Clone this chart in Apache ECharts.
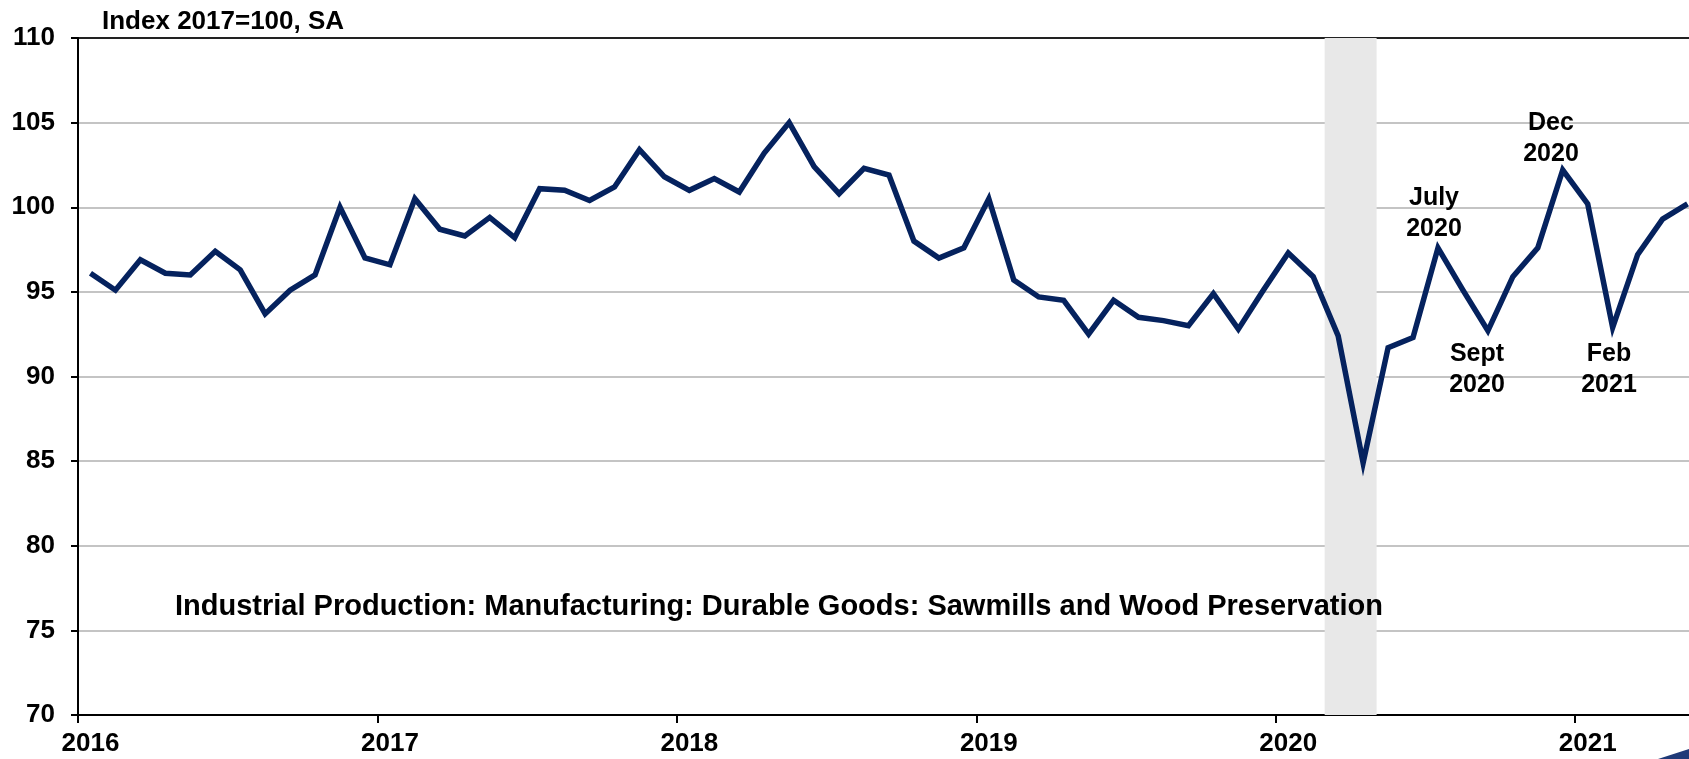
<!DOCTYPE html>
<html>
<head>
<meta charset="utf-8">
<script src="https://cdn.jsdelivr.net/npm/echarts@6/dist/echarts.min.js"></script>
<style>
html,body{margin:0;padding:0;background:#fff;}
#chart{width:1689px;height:759px;}
</style>
</head>
<body>
<div id="chart"></div>
<script>
// ---- data ----
const months = [
 'Jan 2016','Feb 2016','Mar 2016','Apr 2016','May 2016','Jun 2016','Jul 2016','Aug 2016','Sep 2016','Oct 2016','Nov 2016','Dec 2016',
 'Jan 2017','Feb 2017','Mar 2017','Apr 2017','May 2017','Jun 2017','Jul 2017','Aug 2017','Sep 2017','Oct 2017','Nov 2017','Dec 2017',
 'Jan 2018','Feb 2018','Mar 2018','Apr 2018','May 2018','Jun 2018','Jul 2018','Aug 2018','Sep 2018','Oct 2018','Nov 2018','Dec 2018',
 'Jan 2019','Feb 2019','Mar 2019','Apr 2019','May 2019','Jun 2019','Jul 2019','Aug 2019','Sep 2019','Oct 2019','Nov 2019','Dec 2019',
 'Jan 2020','Feb 2020','Mar 2020','Apr 2020','May 2020','Jun 2020','Jul 2020','Aug 2020','Sep 2020','Oct 2020','Nov 2020','Dec 2020',
 'Jan 2021','Feb 2021','Mar 2021','Apr 2021','May 2021'
];
const sawmillsIndex = [
 96.1, 95.1, 96.9, 96.1, 96.0, 97.4, 96.3, 93.7, 95.1, 96.0, 100.0, 97.0,
 96.6, 100.5, 98.7, 98.3, 99.4, 98.2, 101.1, 101.0, 100.4, 101.2, 103.4, 101.8,
 101.0, 101.7, 100.9, 103.2, 105.0, 102.4, 100.8, 102.3, 101.9, 98.0, 97.0, 97.6,
 100.5, 95.7, 94.7, 94.5, 92.5, 94.5, 93.5, 93.3, 93.0, 94.9, 92.8, 95.1,
 97.3, 95.9, 92.4, 84.9, 91.7, 92.3, 97.6, 95.1, 92.7, 95.9, 97.6, 102.2,
 100.2, 92.9, 97.2, 99.3, 100.2
];
const recessionMonths = ['Mar 2020', 'Apr 2020'];
const yMin = 70, yMax = 110, yStep = 5;
const unitLabel = 'Index 2017=100, SA';
const seriesTitle = 'Industrial Production: Manufacturing: Durable Goods: Sawmills and Wood Preservation';
const annotations = [
  {month: 'Jul 2020', text: 'July\n2020'},
  {month: 'Sep 2020', text: 'Sept\n2020'},
  {month: 'Dec 2020', text: 'Dec\n2020'},
  {month: 'Feb 2021', text: 'Feb\n2021'}
];

// ---- chart ----
const FONT = '"Liberation Sans", Arial, Helvetica, sans-serif';
const chart = echarts.init(document.getElementById('chart'), null, {renderer: 'canvas'});
const recessionData = months.map(m => recessionMonths.includes(m) ? yMax : '-');

// annotation pixel placement (style only)
const annotPos = {
  'Jul 2020': {x: 1434, y: 214},
  'Sep 2020': {x: 1477, y: 370},
  'Dec 2020': {x: 1551, y: 139},
  'Feb 2021': {x: 1609, y: 370}
};

const option = {
  animation: false,
  backgroundColor: '#ffffff',
  textStyle: {fontFamily: FONT},
  grid: {
    left: 78, top: 38, width: 1622, height: 677,
    containLabel: false, outerBoundsMode: 'none',
    show: true, borderColor: '#222', borderWidth: 2, backgroundColor: 'transparent'
  },
  xAxis: {
    type: 'category',
    data: months,
    boundaryGap: true,
    axisLine: {show: true, lineStyle: {color: '#000', width: 2}},
    axisTick: {show: true, length: 8, lineStyle: {color: '#000', width: 2},
      interval: (i) => i % 12 === 0},
    axisLabel: {
      interval: (i) => i % 12 === 0,
      formatter: (v) => v.slice(-4),
      color: '#000', fontWeight: 'bold', fontSize: 26, fontFamily: FONT, margin: 16,
      hideOverlap: false
    },
    splitLine: {show: false}
  },
  yAxis: {
    type: 'value',
    min: yMin, max: yMax, interval: yStep,
    axisLine: {show: true, lineStyle: {color: '#000', width: 2}},
    axisTick: {show: true, length: 7, lineStyle: {color: '#000', width: 2}},
    axisLabel: {color: '#000', fontWeight: 'bold', fontSize: 26, fontFamily: FONT, margin: 23},
    splitLine: {show: true, showMaxLine: false, showMinLine: false, lineStyle: {color: '#c4c4c4', width: 2}}
  },
  series: [
    {
      name: 'Recession',
      type: 'bar',
      data: recessionData,
      barWidth: 27,
      itemStyle: {color: '#e8e8e8'},
      silent: true,
      z: 1
    },
    {
      name: seriesTitle,
      type: 'line',
      data: sawmillsIndex,
      symbol: 'none',
      lineStyle: {color: '#05225e', width: 5.5, join: 'miter', cap: 'butt'},
      z: 5
    }
  ],
  graphic: [
    {type: 'text', left: 102, top: 9, z: 10,
      style: {text: unitLabel, fill: '#000', font: 'bold 26px ' + FONT}},
    {type: 'text', left: 175, top: 592, z: 10,
      style: {text: seriesTitle, fill: '#000', font: 'bold 29px ' + FONT}},
    ...annotations.map(a => ({
      type: 'text', x: annotPos[a.month].x, y: annotPos[a.month].y, z: 10,
      style: {text: a.text, fill: '#000', font: 'bold 25px ' + FONT,
        align: 'center', verticalAlign: 'middle', lineHeight: 31}
    })),
    {type: 'polygon', z: 10,
      shape: {points: [[1658, 759], [1689, 749], [1689, 759]]},
      style: {fill: '#1f3a78'}}
  ]
};
chart.setOption(option);
</script>
</body>
</html>
